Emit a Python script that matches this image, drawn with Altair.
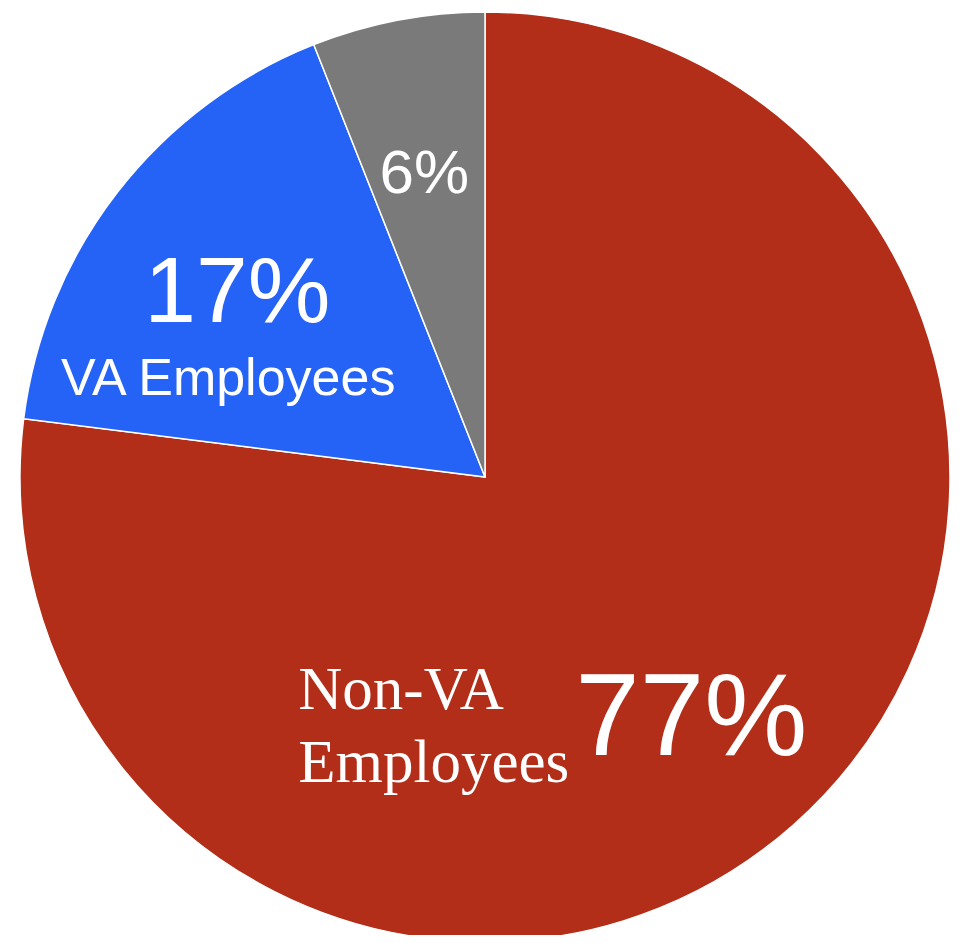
import altair as alt
import pandas as pd

categories = ["Non-VA Employees", "VA Employees", "Other"]
values = [77, 17, 6]
pct_labels = ["77%", "17%", "6%"]
colors = ["#B22E19", "#2563F6", "#7A7A7A"]

df = pd.DataFrame({
    "category": categories,
    "value": values,
    "pct": pct_labels,
    "idx": list(range(len(categories))),
})

base = alt.Chart(df).encode(
    theta=alt.Theta("value:Q", stack=True),
    order=alt.Order("idx:Q"),
    x=alt.value(477),
    y=alt.value(469),
)

pie = base.mark_arc(radius=465, stroke="white", strokeWidth=1.5).encode(
    color=alt.Color("category:N", scale=alt.Scale(domain=categories, range=colors), legend=None),
)

def label(cat, field, radius, size, font, dx=0, dy=0, align="center", baseline="middle", **kw):
    return base.transform_calculate(
        lbl=f"datum.category == '{cat}' ? datum.{field} : ''"
    ).mark_text(
        radius=radius, fontSize=size, font=font, color="white",
        align=align, baseline=baseline, dx=dx, dy=dy, **kw
    ).encode(text="lbl:N")

t77 = label("Non-VA Employees", "pct", 318, 116, "Liberation Sans", dx=-4, dy=4)
tnon = label("Non-VA Employees", "category", 318, 61, "Liberation Serif",
             dx=-397, dy=-7, align="left", baseline="alphabetic", lineBreak=" ", lineHeight=73)
t17 = label("VA Employees", "pct", 311, 93, "Liberation Sans", dx=-2, dy=8)
tva = label("VA Employees", "category", 311, 52, "Liberation Sans", dx=-11, dy=93)
t6 = label("Other", "pct", 308, 62, "Liberation Sans", dx=-3, dy=0)

chart = alt.layer(pie, t77, tnon, t17, tva, t6).properties(
    width=944, height=927, autosize=alt.AutoSizeParams(type="none"), padding=0
).configure_view(stroke=None)

chart.save("out.html", embed_options={"renderer": "svg", "actions": False})
